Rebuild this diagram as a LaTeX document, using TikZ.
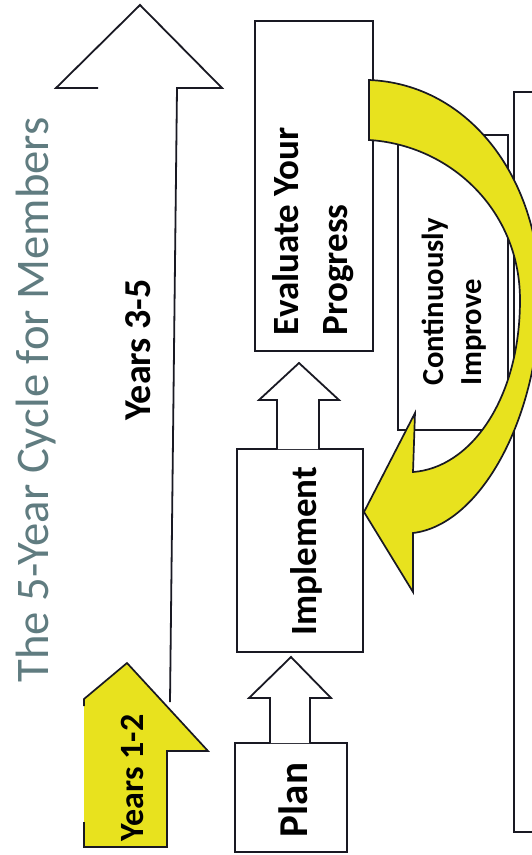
\documentclass[tikz,border=0pt]{standalone}
\usepackage{fontspec}
\setmainfont{Carlito}
\usetikzlibrary{calc}
\definecolor{ylw}{RGB}{232,226,30}
\definecolor{ttl}{RGB}{96,124,128}
\definecolor{edge}{RGB}{25,25,35}
\begin{document}
\begin{tikzpicture}[x=1pt,y=-1pt,
  box/.style={draw=edge, line width=1.9pt, fill=white, inner sep=0pt, outer sep=0pt},
  lbl/.style={rotate=90, inner sep=0pt, outer sep=0pt, text=black},
  warrow/.style={draw=edge, line width=1.8pt, fill=white, line join=miter},
  yarrow/.style={draw=edge, line width=1.7pt, fill=ylw, line join=miter}]
\useasboundingbox (0,0) rectangle (532,855);
\clip (0,0) rectangle (532,855);
\fill[white] (0,0) rectangle (532,855);

% boxes
\node[box, minimum width=110pt, minimum height=295pt] (cont) at (453,282.5) {};
\node[box, minimum width=60pt, minimum height=740pt, anchor=north west] (big) at (514,92) {};
\node[box, minimum width=118pt, minimum height=330pt] (eval) at (314,186) {};
\node[box, minimum width=126pt, minimum height=203pt] (impl) at (300,550.5) {};
\node[box, minimum width=112pt, minimum height=109pt] (plan) at (291,797.5) {};

% white block arrows between the boxes
\coordinate (pa) at (plan.north);
\draw[warrow] ($(pa)+(-21,0)$) -- ($(pa)+(-21,-45)$) -- ($(pa)+(-42,-45)$) -- ($(impl.south)+(-9,5)$)
  -- ($(pa)+(40,-45)$) -- ($(pa)+(19,-45)$) -- ($(pa)+(19,0)$);
\coordinate (ia) at ($(impl.north)+(-1,0)$);
\draw[warrow] ($(ia)+(-22,0)$) -- ($(ia)+(-22,-49)$) -- ($(ia)+(-40,-49)$) -- ($(eval.south)+(-15,12)$)
  -- ($(ia)+(40,-49)$) -- ($(ia)+(20,-49)$) -- ($(ia)+(20,0)$);

% big white arrow (Years 3-5)
\fill[white] (100,88) -- (56,88) -- (140,5) -- (222,88) -- (177,88) -- (170,705) -- (100,705) -- cycle;
\draw[edge, line width=1.8pt, line join=miter] (98,88) -- (56,88) -- (140,5) -- (222,88) -- (177,88) -- (170,702);

% yellow arrow (Years 1-2)
\fill[ylw] (127,663) -- (208,751) -- (167,751) -- (167,847) -- (84,847) -- (84,699) -- cycle;
\draw[edge, line width=1.7pt, line join=miter] (84,706) -- (84,699) -- (127,663) -- (208,751) -- (167,751)
  -- (167,847) -- (84,847) -- (84,822);

% curved yellow arrow from Evaluate back to Implement
\draw[yarrow] ($(eval.east)+(-4,-106)$) .. controls (470,84) and (542,180) .. (540,300)
  .. controls (538,420) and (480,525) .. (413,533) -- (413,592) -- ($(impl.east)+(1,-38.5)$)
  -- (415,413) -- (413,472) .. controls (470,468) and (520,400) .. (520,300)
  .. controls (520,210) and (450,145) .. (369,140) -- cycle;

% texts
\node[lbl, text=ttl, anchor=base, font=\fontsize{46.7}{56}\selectfont] (title) at (48,400) {The 5-Year Cycle for Members};
\node[lbl, anchor=base, font=\fontsize{38}{46}\selectfont\bfseries] (y35) at (150,350) {Years 3-5};
\node[lbl, anchor=base, font=\fontsize{34}{40}\selectfont\bfseries] (y12) at (143,778) {Years 1-2};
\node[lbl, anchor=base west, font=\fontsize{37}{44}\selectfont\bfseries] (evalA) at (298,335) {Evaluate Your};
\node[lbl, anchor=base west, font=\fontsize{37}{44}\selectfont\bfseries] (evalB) at (347,335) {Progress};
\node[lbl, anchor=base, font=\fontsize{37}{44}\selectfont\bfseries] (implT) at (316,551) {Implement};
\node[lbl, anchor=base, font=\fontsize{41}{48}\selectfont\bfseries] (planT) at (307,800) {Plan};
\node[lbl, anchor=base west, font=\fontsize{30.6}{36}\selectfont\bfseries] (contA) at (443,385) {Continuously};
\node[lbl, anchor=base west, font=\fontsize{30.6}{36}\selectfont\bfseries] (contB) at (481,385) {Improve};
\end{tikzpicture}
\end{document}
